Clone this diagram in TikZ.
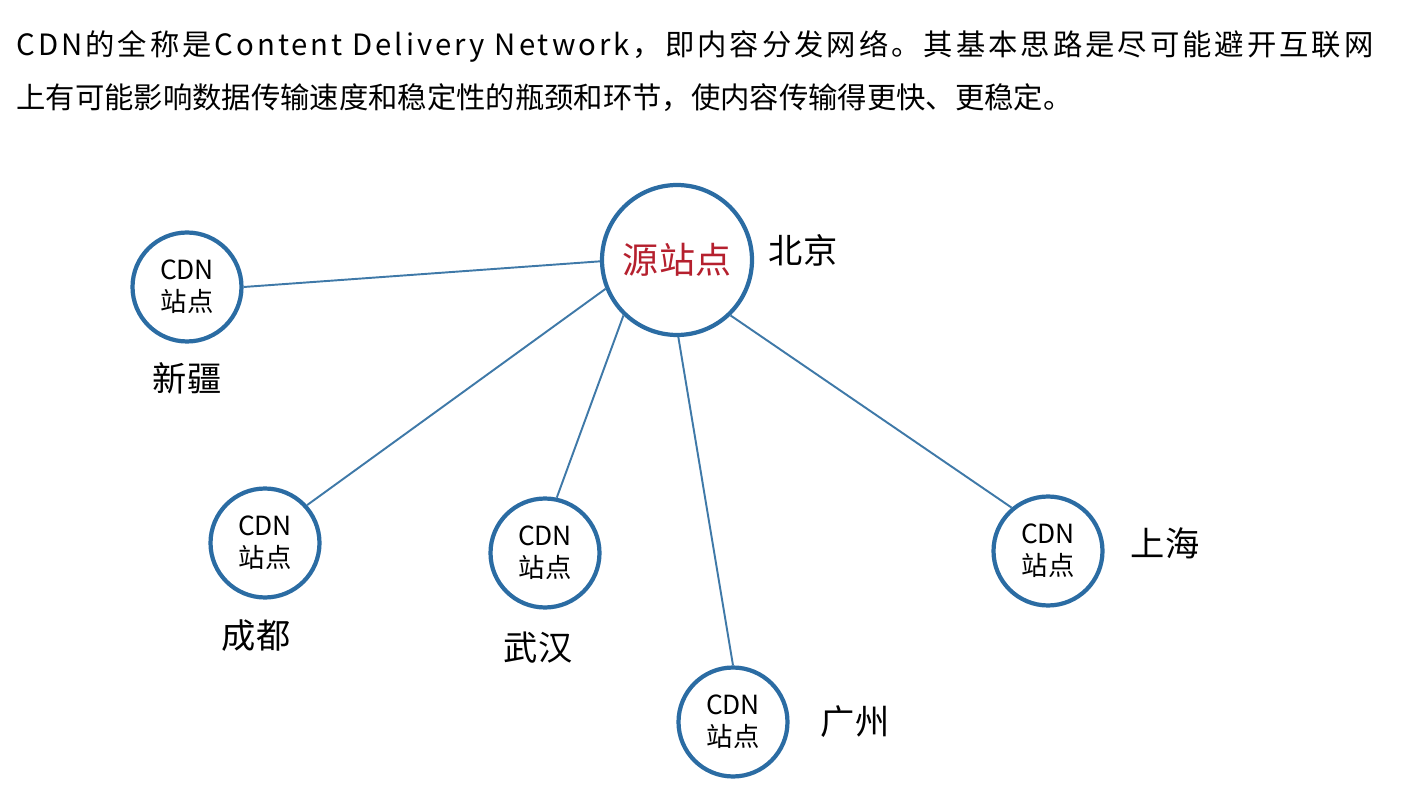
\documentclass[tikz,border=0pt]{standalone}
\usepackage{fontspec}
\setmainfont{Noto Sans CJK SC}
\definecolor{ringblue}{HTML}{2B6CA3}
\definecolor{linkblue}{HTML}{3F79A8}
\definecolor{srcred}{HTML}{B5202E}
\begin{document}
\begin{tikzpicture}[x=0.02cm,y=-0.02cm,
  intro/.style={anchor=west,inner sep=0pt,font=\fontsize{16.7}{20}\selectfont},
  origin/.style={draw=ringblue,line width=2.4pt,circle,minimum size=3.0cm,
    inner sep=0pt,text=srcred,font=\fontsize{20.5}{24}\selectfont},
  site/.style={draw=ringblue,line width=2.4pt,circle,minimum size=2.18cm,
    inner sep=0pt,align=center,font=\fontsize{15}{18}\selectfont},
  place/.style={font=\fontsize{19.5}{23}\selectfont},
  link/.style={draw=linkblue,line width=1.1pt}]
  \useasboundingbox (0,0) rectangle (1406,793);
  \node[intro] (line1) at (16,46)
    {\addfontfeature{LetterSpace=10.2}CDN的全称是Content Delivery Network，即内容分发网络。其基本思路是尽可能避开互联网};
  \node[intro] (line2) at (16,98)
    {上有可能影响数据传输速度和稳定性的瓶颈和环节，使内容传输得更快、更稳定。};
  \node[origin] (src) at (677,260) {源站点};
  \node[place] (bj) at (803,250) {北京};
  \node[site] (xj) at (187,287) {CDN\\站点};
  \node[place] (xjl) at (187,378) {新疆};
  \node[site] (cd) at (265,543) {CDN\\站点};
  \node[place] (cdl) at (256,636) {成都};
  \node[site] (wh) at (545,553) {CDN\\站点};
  \node[place] (whl) at (538,648) {武汉};
  \node[site] (gz) at (733,722) {CDN\\站点};
  \node[place] (gzl) at (855,722) {广州};
  \node[site] (sh) at (1048,551) {CDN\\站点};
  \node[place] (shl) at (1165,543) {上海};
  \draw[link] (src.181) -- (xj.0);
  \draw[link] (src.202) -- (cd.42);
  \draw[link] (src.226) -- (wh.78);
  \draw[link] (src.271) -- (gz.90);
  \draw[link] (src.314) -- (sh.130);
\end{tikzpicture}
\end{document}
